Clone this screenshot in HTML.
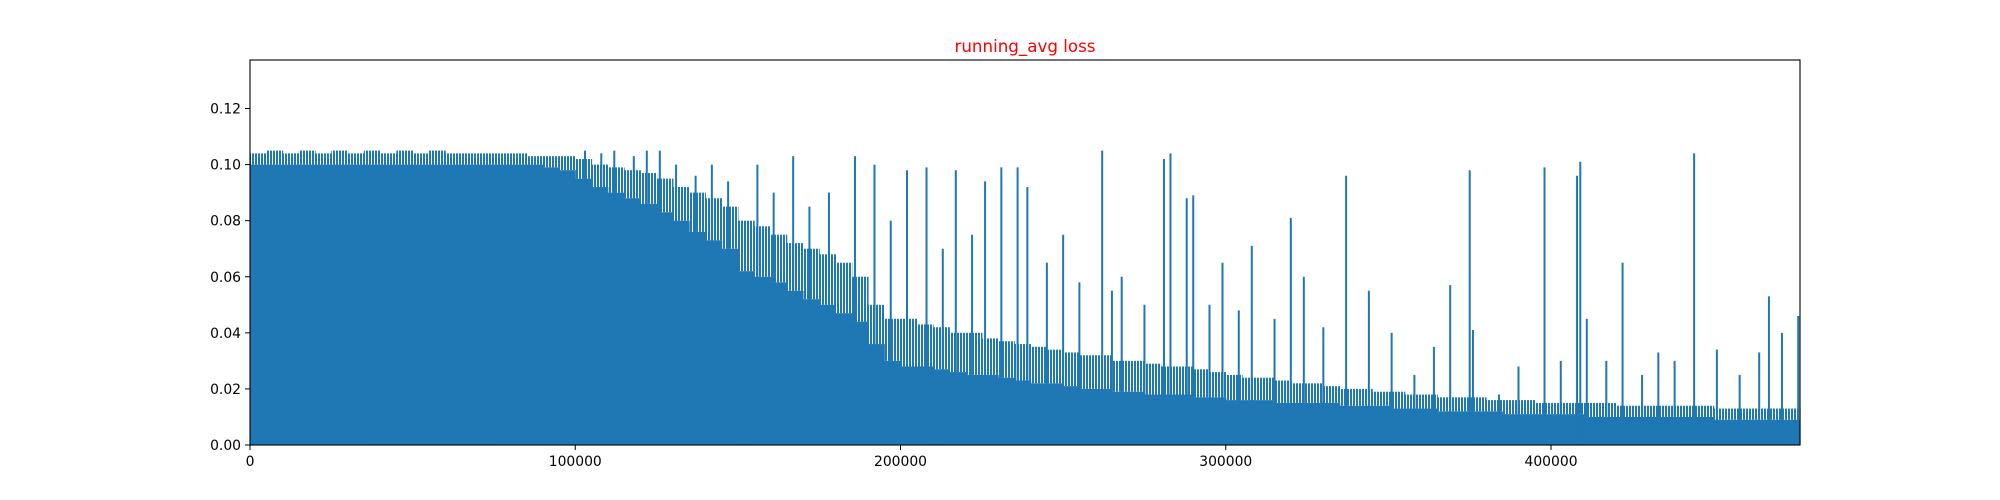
<!DOCTYPE html>
<html><head><meta charset="utf-8"><style>
html,body{margin:0;padding:0;background:#fff;}
svg{display:block;font-family:"DejaVu Sans","Liberation Sans",sans-serif;}
</style></head><body>
<svg id="chart" width="2000" height="500">
<defs>
<pattern id="stripes" patternUnits="userSpaceOnUse" width="3" height="10">
<rect x="0" y="0" width="2" height="10" fill="#1f77b4"/>
</pattern>
</defs>
<rect width="2000" height="500" fill="#fff"/>
<text x="1025" y="52" text-anchor="middle" font-size="16.7" fill="red">running_avg loss</text>
<g id="plot"></g>
<g id="axes"></g>
</svg>
<script>
const binSize = 5000;
const denseVals = [0.1,0.1,0.1,0.1,0.1,0.1,0.1,0.1,0.1,0.1,0.1,0.1,0.1,0.1,0.1,0.1,0.1,0.1,0.099,
0.098,0.095,0.092,0.09,0.088,0.086,
0.083,0.08,0.076,0.073,0.07,
0.062,0.06,0.058,0.055,0.052,0.05,0.047,0.044,
0.036,0.03,0.028,0.028,0.027,0.026,0.025,0.025,0.024,0.023,0.022,0.022,
0.021,0.02,0.02,0.019,0.019,0.018,0.018,0.018,0.017,0.017,
0.016,0.016,0.016,0.015,0.015,0.015,0.015,0.014,0.014,0.014,
0.013,0.013,0.013,0.012,0.012,0.012,0.012,0.011,0.011,0.011,
0.011,0.011,0.01,0.01,0.01,0.01,0.01,0.01,0.01,0.01,0.009,0.009,0.009,0.009,0.009,0.009];
const midVals = [0.104,0.105,0.104,0.105,0.104,0.105,0.104,0.105,0.104,0.105,0.104,0.105,0.104,0.104,0.104,0.104,0.104,0.103,0.103,
0.103,0.102,0.1,0.099,0.098,0.097,
0.095,0.092,0.09,0.088,0.085,
0.08,0.078,0.075,0.072,0.07,0.068,0.065,0.06,
0.05,0.045,0.045,0.043,0.042,0.04,0.04,0.038,0.037,0.036,0.035,0.034,
0.033,0.032,0.032,0.03,0.03,0.029,0.028,0.028,0.027,0.026,
0.025,0.024,0.024,0.023,0.022,0.022,0.021,0.02,0.02,0.019,
0.019,0.018,0.018,0.017,0.017,0.017,0.016,0.016,0.016,0.015,
0.015,0.015,0.015,0.015,0.014,0.014,0.014,0.014,0.014,0.014,0.013,0.013,0.013,0.013,0.013,0.013];
const spikeSteps = [103000,108000,112000,118000,122000,126000,131000,137000,142000,147000,156000,161000,167000,172000,178000,186000,192000,197000,202000,208000,213000,217000,222000,226000,231000,236000,239000,245000,250000,255000,262000,265000,268000,275000,281000,283000,288000,290000,295000,299000,304000,308000,315000,320000,324000,330000,337000,344000,351000,358000,364000,369000,375000,376000,384000,390000,398000,403000,408000,409000,411000,417000,422000,428000,433000,438000,444000,451000,458000,464000,467000,471000,476000];
const spikeVals = [0.105,0.104,0.105,0.103,0.105,0.105,0.1,0.096,0.1,0.094,0.1,0.09,0.103,0.085,0.09,0.103,0.1,0.08,0.098,0.099,0.07,0.098,0.075,0.094,0.099,0.099,0.092,0.065,0.075,0.058,0.105,0.055,0.06,0.05,0.102,0.104,0.088,0.089,0.05,0.065,0.048,0.071,0.045,0.081,0.06,0.042,0.096,0.055,0.04,0.025,0.035,0.057,0.098,0.041,0.018,0.028,0.099,0.03,0.096,0.101,0.045,0.03,0.065,0.025,0.033,0.03,0.104,0.034,0.025,0.033,0.053,0.04,0.046];
const yTicks = [0,0.02,0.04,0.06,0.08,0.1,0.12];
const yTickLabels = ["0.00","0.02","0.04","0.06","0.08","0.10","0.12"];
const xTicks = [0,100000,200000,300000,400000];
const xTickLabels = ["0","100000","200000","300000","400000"];

const X0=250,X1=1800,Y0=445,Y1=60,XMAX=476550,YMAX=0.1373;
const sx=v=>X0+(v/XMAX)*(X1-X0);
const sy=v=>Y0-(v/YMAX)*(Y0-Y1);
const NS='http://www.w3.org/2000/svg';
const plot=document.getElementById('plot'), axes=document.getElementById('axes');
function mk(tag,attrs,parent){const e=document.createElementNS(NS,tag);for(const k in attrs)e.setAttribute(k,attrs[k]);parent.appendChild(e);return e;}
const C='#1f77b4';
denseVals.forEach((d,i)=>{
  const a=i*binSize, b=Math.min((i+1)*binSize,XMAX);
  const x=sx(a), w=sx(b)-sx(a)+0.6;
  const r=mk('rect',{x:x,y:sy(d),width:w,height:Y0-sy(d),fill:C},plot);
  
  
  const m=midVals[i];
  const r2=mk('rect',{x:x,y:sy(m),width:w,height:sy(d)-sy(m),fill:'url(#stripes)'},plot);
  
  
});
spikeSteps.forEach((s,i)=>{
  const l=mk('line',{x1:sx(s),x2:sx(s),y1:Y0,y2:sy(spikeVals[i]),stroke:C,'stroke-width':2},plot);
  
  
});
const frame=mk('rect',{x:X0,y:Y1,width:X1-X0,height:Y0-Y1,fill:'none',stroke:'#000','stroke-width':1.1},axes);


yTicks.forEach((v,i)=>{
  const y=sy(v);
  const t=mk('line',{x1:X0-5,x2:X0,y1:y,y2:y,stroke:'#000','stroke-width':1},axes);
  
  
  const tx=mk('text',{x:X0-9,y:y+5,'text-anchor':'end','font-size':13.9,fill:'#000'},axes);
  tx.textContent=yTickLabels[i];
  
  
});
xTicks.forEach((v,i)=>{
  const x=sx(v);
  const t=mk('line',{x1:x,x2:x,y1:Y0,y2:Y0+5,stroke:'#000','stroke-width':1},axes);
  
  
  const tx=mk('text',{x:x,y:Y0+21,'text-anchor':'middle','font-size':13.9,fill:'#000'},axes);
  tx.textContent=xTickLabels[i];
  
  
});
</script>
</body></html>
